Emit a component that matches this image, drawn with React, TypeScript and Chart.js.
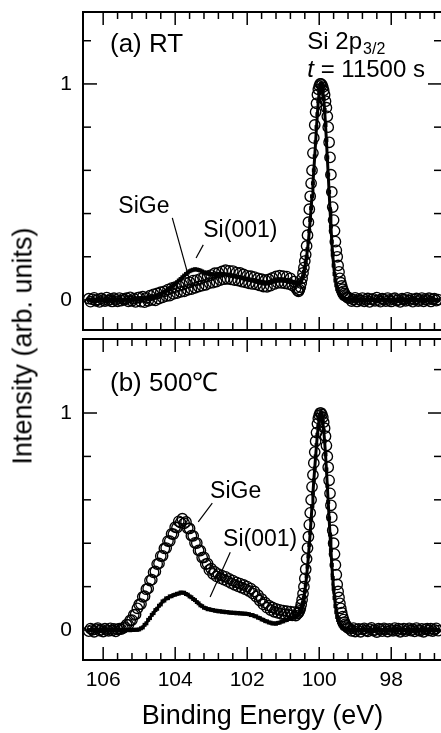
import React, { useEffect, useRef } from "react";
import { Chart, registerables } from "chart.js";
Chart.register(...registerables);

const FONT = '"Liberation Sans", Arial, Helvetica, sans-serif';
const X_MIN = 96.59;
const X_MAX = 106.56;

// Binding energy grid (eV)
const energy = [
  106.4,106.35,106.3,106.25,106.2,106.15,106.1,106.05,106.0,105.95,105.9,105.85,105.8,105.75,105.7,105.65,105.6,105.55,105.5,105.45,105.4,
  105.35,105.3,105.25,105.2,105.15,105.1,105.05,
  105.0,104.95,104.9,104.85,104.8,104.75,104.7,104.65,104.6,104.55,104.5,104.45,104.4,104.35,104.3,104.25,104.2,104.15,104.1,104.05,
  104.0,103.95,103.9,103.85,103.8,103.75,103.7,103.65,103.6,103.55,103.5,103.45,103.4,103.35,103.3,103.25,103.2,103.15,103.1,103.05,
  103.0,102.95,102.9,102.85,102.8,102.75,102.7,102.65,102.6,102.55,102.5,102.45,102.4,102.35,102.3,102.25,102.2,102.15,102.1,102.05,
  102.0,101.95,101.9,101.85,101.8,101.75,101.7,101.65,101.6,101.55,101.5,101.45,101.4,101.35,101.3,101.25,101.2,101.15,101.1,101.05,
  101.0,100.95,100.9,100.85,100.8,100.75,100.7,100.65,
  100.6,100.575,100.55,100.525,100.5,100.475,100.45,100.425,
  100.4,100.375,100.35,100.325,100.3,100.275,100.25,100.225,
  100.2,100.175,100.15,100.125,100.1,100.075,100.05,100.025,
  100.0,99.975,99.95,99.925,99.9,99.875,99.85,99.825,
  99.8,99.775,99.75,99.725,99.7,99.675,99.65,99.625,
  99.6,99.575,99.55,99.525,99.5,99.475,99.45,99.425,
  99.4,99.375,99.35,99.325,99.3,99.275,99.25,99.225,
  99.2,
  99.15,99.1,99.05,99.0,98.95,98.9,98.85,98.8,98.75,98.7,
  98.65,98.6,98.55,98.5,98.45,98.4,98.35,98.3,98.25,98.2,
  98.15,98.1,98.05,98.0,97.95,97.9,97.85,97.8,97.75,97.7,
  97.65,97.6,97.55,97.5,97.45,97.4,97.35,97.3,97.25,97.2,
  97.15,97.1,97.05,97.0,96.95,96.9,96.85,96.8,96.75,96.7,
];

// (a) RT — SiGe (open circles)
const sigeRT = [
  0.006,-0.008,0.003,0.01,-0.004,0.002,-0.009,0.007,0.0,-0.005,0.011,-0.002,0.004,-0.007,0.008,0.001,-0.006,0.009,-0.003,0.005,0.002,
  0.008,-0.006,0.012,-0.004,0.006,-0.009,0.01,
  0.012,-0.008,0.015,-0.01,0.01,-0.004,0.02,0.0,0.026,-0.002,0.03,0.006,0.036,0.012,0.04,0.018,0.048,0.02,0.055,0.028,
  0.06,0.032,0.065,0.038,0.07,0.04,0.078,0.047,0.082,0.05,0.09,0.056,0.092,0.062,0.098,0.066,0.106,0.07,0.11,0.078,
  0.115,0.08,0.124,0.085,0.126,0.092,0.132,0.096,0.138,0.098,0.135,0.095,0.134,0.092,0.127,0.09,0.125,0.085,0.118,0.082,
  0.112,0.077,0.11,0.074,0.106,0.072,0.1,0.067,0.096,0.062,0.092,0.061,0.095,0.066,0.102,0.074,0.109,0.079,0.113,0.079,
  0.11,0.077,0.108,0.074,0.1,0.068,0.085,0.055,
  0.045,0.04,0.048,0.06,0.078,0.1,0.125,0.15,
  0.18,0.21,0.25,0.3,0.36,0.42,0.48,0.54,
  0.6,0.68,0.75,0.81,0.87,0.91,0.95,0.975,
  0.99,1.0,1.0,0.995,0.985,0.97,0.95,0.92,
  0.89,0.85,0.8,0.73,0.66,0.58,0.5,0.43,
  0.37,0.32,0.27,0.23,0.2,0.16,0.13,0.1,
  0.08,0.065,0.05,0.04,0.03,0.024,0.018,0.013,
  0.01,
  0.008,-0.005,0.002,0.01,-0.007,0.004,-0.002,0.009,-0.006,0.001,
  0.007,-0.009,0.003,0.005,-0.004,0.011,-0.001,-0.008,0.006,0.002,
  -0.005,0.009,0.0,-0.007,0.004,0.008,-0.003,0.001,-0.009,0.006,
  0.003,-0.004,0.01,-0.002,0.005,-0.008,0.002,0.007,-0.005,0.0,
  0.009,-0.006,0.004,-0.001,0.008,-0.007,0.003,0.006,-0.003,0.002,
];

// (a) RT — Si(001) (line with filled squares)
const siRT = [
  0.001,-0.002,0.002,0.0,-0.001,0.002,0.0,-0.002,0.001,0.002,0.0,-0.001,0.002,0.001,-0.002,0.0,0.002,-0.001,0.001,0.0,0.002,
  0.001,0.003,0.0,0.002,0.004,0.003,0.005,
  0.004,0.006,0.005,0.008,0.007,0.01,0.012,0.011,0.015,0.017,0.02,0.024,0.028,0.033,0.037,0.043,0.05,0.055,0.062,0.068,
  0.075,0.082,0.09,0.097,0.105,0.113,0.12,0.127,0.133,0.137,0.14,0.142,0.141,0.139,0.136,0.132,0.128,0.125,0.122,0.12,
  0.119,0.118,0.118,0.119,0.12,0.121,0.12,0.119,0.118,0.116,0.115,0.113,0.112,0.11,0.108,0.107,0.105,0.103,0.1,0.098,
  0.097,0.095,0.093,0.092,0.09,0.088,0.086,0.085,0.083,0.082,0.08,0.08,0.081,0.083,0.085,0.087,0.089,0.09,0.091,0.09,
  0.09,0.089,0.088,0.087,0.085,0.083,0.081,0.079,
  0.078,0.079,0.08,0.084,0.09,0.1,0.11,0.13,
  0.15,0.175,0.2,0.235,0.27,0.32,0.37,0.425,
  0.48,0.54,0.6,0.665,0.73,0.8,0.86,0.92,
  0.96,0.99,1.0,0.99,0.97,0.93,0.88,0.81,
  0.74,0.66,0.58,0.5,0.42,0.34,0.27,0.21,
  0.16,0.12,0.09,0.068,0.05,0.04,0.03,0.022,
  0.016,0.012,0.009,0.007,0.005,0.004,0.003,0.002,
  0.002,
  0.002,0.001,-0.001,0.001,0.0,0.002,-0.001,0.001,0.0,-0.002,
  0.001,0.0,0.002,-0.001,0.001,0.0,-0.002,0.001,0.002,0.0,
  -0.001,0.001,0.0,0.002,-0.001,0.0,0.001,-0.002,0.001,0.0,
  0.002,-0.001,0.001,0.0,-0.001,0.002,0.0,0.001,-0.002,0.001,
  0.0,0.002,-0.001,0.001,0.0,-0.001,0.002,0.0,0.001,-0.001,
];

// (b) 500℃ — SiGe (open circles)
const sige500 = [
  -0.005,0.007,0.001,-0.008,0.004,0.009,-0.003,0.002,-0.007,0.006,0.0,-0.004,0.008,-0.002,0.005,-0.006,0.003,0.007,0.004,0.009,0.014,
  0.025,0.024,0.044,0.046,0.07,0.072,0.1,
  0.118,0.12,0.153,0.156,0.188,0.192,0.228,0.232,0.266,0.27,0.304,0.307,0.341,0.342,0.376,0.378,0.41,0.41,0.443,0.442,
  0.474,0.472,0.501,0.495,0.513,0.492,0.498,0.469,0.468,0.435,0.434,0.402,0.401,0.367,0.366,0.334,0.335,0.304,0.306,0.277,
  0.283,0.259,0.268,0.247,0.258,0.239,0.251,0.232,0.245,0.225,0.236,0.216,0.228,0.208,0.22,0.201,0.214,0.195,0.208,0.188,
  0.2,0.18,0.191,0.169,0.178,0.154,0.161,0.136,0.143,0.118,0.126,0.103,0.113,0.092,0.104,0.084,0.097,0.079,0.093,0.075,
  0.09,0.072,0.087,0.07,0.085,0.068,0.083,0.067,
  0.076,0.08,0.088,0.1,0.118,0.14,0.168,0.2,
  0.238,0.28,0.328,0.378,0.43,0.485,0.54,0.6,
  0.66,0.715,0.77,0.82,0.87,0.91,0.95,0.975,
  0.99,1.0,1.0,0.993,0.98,0.958,0.93,0.893,
  0.85,0.8,0.75,0.69,0.63,0.575,0.52,0.46,
  0.4,0.35,0.3,0.255,0.21,0.178,0.15,0.123,
  0.1,0.08,0.062,0.048,0.036,0.027,0.02,0.014,
  0.01,
  0.006,-0.004,0.009,-0.007,0.002,0.005,-0.008,0.003,0.008,-0.002,
  -0.006,0.004,0.01,-0.003,0.001,-0.009,0.006,0.002,-0.005,0.008,
  0.003,-0.007,0.005,0.0,-0.004,0.009,-0.002,0.006,-0.008,0.002,
  0.007,-0.005,0.001,0.008,-0.003,0.004,-0.006,0.009,0.0,-0.004,
  0.005,-0.008,0.003,0.007,-0.002,0.006,-0.005,0.001,0.008,-0.003,
];

// (b) 500℃ — Si(001) (line with filled squares)
const si500 = [
  0.0,-0.002,0.001,0.002,-0.001,0.0,0.002,-0.002,0.001,0.0,-0.001,0.001,0.002,-0.001,0.0,0.002,-0.002,0.001,0.0,0.001,-0.001,
  0.0,0.002,-0.001,0.001,0.0,0.002,0.001,
  0.003,0.008,0.012,0.024,0.031,0.047,0.055,0.07,0.078,0.092,0.098,0.112,0.118,0.132,0.136,0.146,0.147,0.155,0.156,0.161,
  0.163,0.167,0.168,0.173,0.172,0.172,0.166,0.163,0.155,0.151,0.143,0.138,0.129,0.123,0.114,0.11,0.103,0.101,0.096,0.096,
  0.093,0.092,0.089,0.089,0.086,0.087,0.084,0.085,0.082,0.083,0.08,0.081,0.079,0.08,0.077,0.079,0.076,0.077,0.075,0.076,
  0.074,0.073,0.069,0.069,0.064,0.063,0.057,0.055,0.049,0.047,0.041,0.04,0.035,0.034,0.03,0.031,0.029,0.033,0.034,0.039,
  0.04,0.045,0.046,0.051,0.052,0.057,0.059,0.065,
  0.068,0.072,0.078,0.086,0.097,0.11,0.128,0.15,
  0.178,0.21,0.248,0.292,0.34,0.392,0.448,0.508,
  0.57,0.63,0.69,0.745,0.8,0.852,0.9,0.94,
  0.97,0.99,1.0,0.985,0.96,0.92,0.87,0.81,
  0.74,0.665,0.59,0.515,0.44,0.368,0.3,0.24,
  0.19,0.148,0.11,0.082,0.06,0.046,0.035,0.026,
  0.02,0.015,0.01,0.008,0.005,0.004,0.003,0.002,
  0.002,
  0.001,0.0,-0.001,0.002,0.0,0.001,-0.001,0.0,0.002,0.0,
  -0.001,0.001,0.0,0.002,-0.001,0.0,0.001,0.0,-0.002,0.001,
  0.0,0.002,-0.001,0.001,0.0,-0.001,0.002,0.0,0.001,-0.001,
  0.001,0.0,0.002,-0.001,0.0,0.001,-0.002,0.001,0.0,0.002,
  -0.001,0.001,0.0,-0.001,0.002,0.0,0.001,-0.001,0.0,0.001,
];

const xMajor = [106, 104, 102, 100, 98];
const xTickLabels = ["106", "104", "102", "100", "98"];
const xMinor = [105.6,105.2,104.8,104.4,103.6,103.2,102.8,102.4,101.6,101.2,100.8,100.4,99.6,99.2,98.8,98.4,97.6,97.2,96.8];
const yMajor = [0, 1];
const yTickLabels = ["0", "1"];
const yMinor = [0.2, 0.4, 0.6, 0.8, 1.2];

type Label = { text: string; x: number; y: number; size: number; italic?: string; sub?: string };
type Leader = [number, number, number, number];
type Panel = {
  circles: number[];
  line: number[];
  yMin: number;
  yMax: number;
  labels: Label[];
  leaders: Leader[];
  showX: boolean;
  padTop: number;
  padBottom: number;
};

const panelA: Panel = {
  circles: sigeRT,
  line: siRT,
  yMin: -0.139,
  yMax: 1.333,
  showX: false,
  padTop: 12,
  padBottom: 10,
  labels: [
    { text: "(a) RT", x: 105.81, y: 1.148, size: 26 },
    { text: "Si 2p", sub: "3/2", x: 100.33, y: 1.162, size: 24 },
    { italic: "t", text: " = 11500 s", x: 100.33, y: 1.032, size: 24 },
    { text: "SiGe", x: 105.58, y: 0.403, size: 23 },
    { text: "Si(001)", x: 103.22, y: 0.292, size: 23 },
  ],
  leaders: [
    [104.08, 0.38, 103.58, 0.079],
    [103.22, 0.255, 103.42, 0.194],
  ],
};

const panelB: Panel = {
  circles: sige500,
  line: si500,
  yMin: -0.138,
  yMax: 1.341,
  showX: true,
  padTop: 9,
  padBottom: 0,
  labels: [
    { text: "(b) 500℃", x: 105.81, y: 1.101, size: 26 },
    { text: "SiGe", x: 103.03, y: 0.608, size: 23 },
    { text: "Si(001)", x: 102.67, y: 0.387, size: 23 },
  ],
  leaders: [
    [102.97, 0.585, 103.36, 0.498],
    [102.47, 0.359, 103.03, 0.152],
  ],
};

function makeDecor(p: Panel) {
  return {
    id: "panelDecor",
    afterDatasetsDraw(chart: any) {
      const { ctx, chartArea: a } = chart;
      const xs = chart.scales.x;
      const ys = chart.scales.y;
      ctx.save();
      ctx.strokeStyle = "#000";
      ctx.lineWidth = 1.5;
      const seg = (x0: number, y0: number, x1: number, y1: number) => {
        ctx.beginPath();
        ctx.moveTo(x0, y0);
        ctx.lineTo(x1, y1);
        ctx.stroke();
      };
      for (const v of xMajor) {
        const px = xs.getPixelForValue(v);
        seg(px, a.top, px, a.top + 13);
        seg(px, a.bottom, px, a.bottom - 13);
      }
      for (const v of xMinor) {
        const px = xs.getPixelForValue(v);
        seg(px, a.top, px, a.top + 7);
        seg(px, a.bottom, px, a.bottom - 7);
      }
      for (const v of yMajor) {
        const py = ys.getPixelForValue(v);
        seg(a.left, py, a.left + 14, py);
        seg(a.right, py, a.right - 14, py);
      }
      for (const v of yMinor) {
        const py = ys.getPixelForValue(v);
        seg(a.left, py, a.left + 8, py);
        seg(a.right, py, a.right - 8, py);
      }
      ctx.lineWidth = 2;
      ctx.strokeRect(a.left, a.top, a.right - a.left, a.bottom - a.top);

      ctx.lineWidth = 1.2;
      for (const l of p.leaders) {
        seg(xs.getPixelForValue(l[0]), ys.getPixelForValue(l[1]), xs.getPixelForValue(l[2]), ys.getPixelForValue(l[3]));
      }

      ctx.fillStyle = "#000";
      ctx.textAlign = "left";
      ctx.textBaseline = "alphabetic";
      for (const t of p.labels) {
        let cx = xs.getPixelForValue(t.x);
        const cy = ys.getPixelForValue(t.y);
        if (t.italic) {
          ctx.font = `italic ${t.size}px ${FONT}`;
          ctx.fillText(t.italic, cx, cy);
          cx += ctx.measureText(t.italic).width;
        }
        ctx.font = `${t.size}px ${FONT}`;
        ctx.fillText(t.text, cx, cy);
        cx += ctx.measureText(t.text).width;
        if (t.sub) {
          ctx.font = `${Math.round(t.size * 0.68)}px ${FONT}`;
          ctx.fillText(t.sub, cx + 1, cy + t.size * 0.2);
        }
      }
      ctx.restore();
    },
  };
}

function zeroPad(s: any) {
  s.paddingTop = 0;
  s.paddingBottom = 0;
  s.paddingLeft = 0;
  s.paddingRight = 0;
}

function buildChart(canvas: HTMLCanvasElement, p: Panel) {
  const circlePts = energy.map((e, i) => ({ x: e, y: p.circles[i] }));
  const linePts = energy.map((e, i) => ({ x: e, y: p.line[i] }));
  const xScale: any = p.showX
    ? {
        type: "linear",
        reverse: true,
        min: X_MIN,
        max: X_MAX,
        position: "bottom",
        afterFit: (s: any) => {
          s.height = 73;
          zeroPad(s);
        },
        afterBuildTicks: (s: any) => {
          s.ticks = xMajor.map((v) => ({ value: v }));
        },
        grid: { display: false, drawTicks: false },
        border: { display: false },
        ticks: {
          padding: 8,
          autoSkip: false,
          maxRotation: 0,
          color: "#000",
          font: { family: FONT, size: 21 },
          callback: (_v: any, i: number) => xTickLabels[i],
        },
        title: {
          display: true,
          text: "Binding Energy (eV)",
          color: "#000",
          font: { family: FONT, size: 27 },
          padding: { top: 0, bottom: 0 },
        },
      }
    : { type: "linear", reverse: true, min: X_MIN, max: X_MAX, display: false };

  return new Chart(canvas, {
    type: "scatter",
    data: {
      datasets: [
        {
          label: "SiGe",
          data: circlePts,
          showLine: false,
          pointStyle: "circle",
          pointRadius: 5.2,
          pointBorderWidth: 1.35,
          pointBorderColor: "#000",
          pointBackgroundColor: "rgba(0,0,0,0)",
          borderColor: "#000",
          backgroundColor: "rgba(0,0,0,0)",
          order: 2,
        },
        {
          label: "Si(001)",
          data: linePts,
          showLine: true,
          borderColor: "#000",
          borderWidth: 3,
          pointStyle: "rect",
          pointRadius: 2.8,
          pointBorderWidth: 0,
          pointBackgroundColor: "#000",
          backgroundColor: "#000",
          order: 1,
        },
      ],
    } as any,
    options: {
      animation: false,
      responsive: false,
      maintainAspectRatio: false,
      devicePixelRatio: 1,
      events: [],
      layout: { padding: { left: 0, right: 18, top: p.padTop, bottom: p.padBottom } },
      plugins: { legend: { display: false }, tooltip: { enabled: false } },
      scales: {
        x: xScale,
        y: {
          type: "linear",
          min: p.yMin,
          max: p.yMax,
          position: "left",
          afterFit: (s: any) => {
            s.width = 83;
            zeroPad(s);
          },
          afterBuildTicks: (s: any) => {
            s.ticks = yMajor.map((v) => ({ value: v }));
          },
          grid: { display: false, drawTicks: false },
          border: { display: false },
          ticks: {
            padding: 11,
            color: "#000",
            font: { family: FONT, size: 21 },
            callback: (_v: any, i: number) => yTickLabels[i],
          },
        },
      },
    } as any,
    plugins: [makeDecor(p)],
  });
}

export default function App() {
  const topRef = useRef<HTMLCanvasElement>(null);
  const botRef = useRef<HTMLCanvasElement>(null);
  useEffect(() => {
    const a = buildChart(topRef.current as HTMLCanvasElement, panelA);
    const b = buildChart(botRef.current as HTMLCanvasElement, panelB);
    return () => {
      a.destroy();
      b.destroy();
    };
  }, []);
  return (
    <div
      style={{
        position: "absolute",
        left: 0,
        top: 0,
        width: 441,
        height: 733,
        overflow: "hidden",
        background: "#fff",
      }}
    >
      <canvas
        ref={topRef}
        width={460}
        height={340}
        style={{ position: "absolute", left: 0, top: 0, width: 460, height: 340 }}
      />
      <canvas
        ref={botRef}
        width={460}
        height={403}
        style={{ position: "absolute", left: 0, top: 330, width: 460, height: 403 }}
      />
      <div
        style={{
          position: "absolute",
          left: 23,
          top: 346,
          transform: "translate(-50%, -50%) rotate(-90deg)",
          fontFamily: FONT,
          fontSize: 27,
          lineHeight: 1,
          whiteSpace: "nowrap",
          color: "#000",
        }}
      >
        Intensity (arb. units)
      </div>
    </div>
  );
}
